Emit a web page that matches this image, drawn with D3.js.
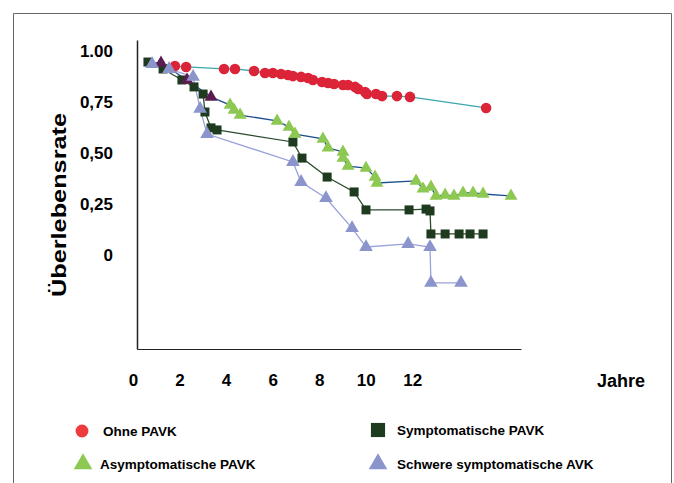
<!DOCTYPE html>
<html>
<head>
<meta charset="utf-8">
<script src="https://cdn.jsdelivr.net/npm/d3@7"></script>
<style>
body { margin: 0; background: #fff; }
svg text { font-family: "Liberation Sans", Arial, sans-serif; font-weight: bold; fill: #000; }
</style>
</head>
<body>
<svg></svg>
<script>

// tick labels
var yTicks = [1, 0.75, 0.5, 0.25, 0];
var yTickLabels = ["1.00", "0,75", "0,50", "0,25", "0"];
var xTicks = [0, 2, 4, 6, 8, 10, 12];

// Ohne PAVK
var ohneYears = [1.63, 2.11, 3.74, 4.21, 5.03, 5.50, 5.84, 6.19, 6.49, 6.70, 7.05, 7.35, 7.56, 7.95, 8.21, 8.47, 8.85, 9.07, 9.37, 9.50, 9.80, 9.88, 10.27, 10.53, 11.17, 11.73, 15.00];
var ohneRate  = [0.926, 0.922, 0.912, 0.912, 0.902, 0.892, 0.892, 0.887, 0.882, 0.877, 0.873, 0.868, 0.858, 0.848, 0.843, 0.838, 0.833, 0.833, 0.824, 0.814, 0.799, 0.789, 0.789, 0.779, 0.779, 0.775, 0.721];

// Symptomatische PAVK
var sympYears = [0.47, 1.12, 1.93, 2.45, 2.84, 2.92, 3.18, 3.44, 6.70, 7.09, 8.17, 9.33, 9.84, 11.69, 12.42, 12.59, 12.63, 13.24, 13.84, 14.31, 14.87];
var sympRate  = [0.946, 0.912, 0.858, 0.824, 0.789, 0.701, 0.623, 0.613, 0.554, 0.475, 0.382, 0.309, 0.221, 0.221, 0.225, 0.216, 0.103, 0.103, 0.103, 0.103, 0.103];

// Asymptomatische PAVK (first three markers drawn dark)
var asymYears = [1.03, 2.15, 3.18, 4.00, 4.17, 4.43, 6.02, 6.53, 6.79, 7.99, 8.21, 8.85, 8.85, 9.07, 9.84, 10.23, 10.31, 11.99, 12.29, 12.63, 12.85, 13.24, 13.62, 14.01, 14.44, 14.87, 16.07];
var asymRate  = [0.941, 0.858, 0.775, 0.735, 0.711, 0.686, 0.657, 0.627, 0.593, 0.569, 0.525, 0.505, 0.475, 0.436, 0.426, 0.382, 0.353, 0.363, 0.324, 0.333, 0.289, 0.294, 0.289, 0.304, 0.304, 0.299, 0.289];
var asymDark = 3;

// Schwere symptomatische AVK
var schwYears = [0.65, 1.38, 2.41, 2.71, 3.01, 6.70, 7.05, 8.12, 9.24, 9.84, 11.65, 12.59, 12.63, 13.92];
var schwRate  = [0.936, 0.912, 0.873, 0.716, 0.593, 0.456, 0.358, 0.279, 0.132, 0.039, 0.054, 0.039, -0.137, -0.137];

var startYear = 0.47, startRate = 0.946;

var zip = function(a, b) { return a.map(function(d, i) { return [d, b[i]]; }); };

var width = 674, height = 483;

const x = d3.scaleLinear().domain([0, 16.5]).range([137, 521]);
const y = d3.scaleLinear().domain([-0.461, 1.054]).range([349, 40]);

const svg = d3.select('svg')
	.attr('width', width)
	.attr('height', height);

// frame
svg.append('path')
	.attr('d', 'M13.5,490V13.5H671.5V490')
	.attr('fill', 'none')
	.attr('stroke', '#666')
	.attr('stroke-width', 1);

// axes
var yAxis = d3.axisLeft(y).tickValues(yTicks)
	.tickFormat(function(d, i) { return yTickLabels[i]; })
	.tickSize(0).tickPadding(24);
var xAxis = d3.axisBottom(x).tickValues(xTicks).tickSize(0).tickPadding(25);

const gy = svg.append('g').attr('transform', 'translate(137,0)').call(yAxis);
gy.select('.domain').attr('stroke', '#222').attr('stroke-width', 1.5);
gy.selectAll('text').attr('font-size', 17).style('font-family', '"Liberation Sans", Arial, sans-serif');

const gx = svg.append('g').attr('transform', 'translate(0,349)').call(xAxis);
gx.select('.domain').attr('stroke', '#222').attr('stroke-width', 1);
gx.selectAll('text').attr('font-size', 17).attr('dx', -4).style('font-family', '"Liberation Sans", Arial, sans-serif');

svg.append('text')
	.attr('x', 597).attr('y', 387)
	.attr('font-size', 18)
	.text('Jahre');

svg.append('text')
	.attr('transform', 'translate(66,205) rotate(-90)')
	.attr('text-anchor', 'middle')
	.attr('font-size', 21)
	.attr('textLength', 184)
	.attr('lengthAdjust', 'spacingAndGlyphs')
	.text('Überlebensrate');

// lines
var line = d3.line()
	.x(function(d) { return x(d[0]); })
	.y(function(d) { return y(d[1]); });

var series = [
	{ pts: [[startYear, startRate]].concat(zip(ohneYears, ohneRate)), color: '#3aa7aa', w: 1.3 },
	{ pts: zip(sympYears, sympRate), color: '#2c4a2c', w: 1.3 },
	{ pts: [[startYear, startRate]].concat(zip(asymYears, asymRate)), color: '#1f4f8e', w: 1.3 },
	{ pts: zip(schwYears, schwRate), color: '#9aa2da', w: 1.3 }
];

svg.selectAll('.line')
	.data(series)
	.enter().append('path')
	.attr('class', 'line')
	.attr('d', function(d) { return line(d.pts); })
	.attr('fill', 'none')
	.attr('stroke', function(d) { return d.color; })
	.attr('stroke-width', function(d) { return d.w; });

// markers
var sym = function(type, size) { return d3.symbol().type(type).size(size)(); };

function markers(pts, path, color) {
	svg.append('g').selectAll('path')
		.data(pts)
		.enter().append('path')
		.attr('d', path)
		.attr('transform', function(d) { return 'translate(' + x(d[0]) + ',' + y(d[1]) + ')'; })
		.attr('fill', function(d, i) { return typeof color === 'function' ? color(i) : color; });
}

markers(zip(ohneYears, ohneRate), sym(d3.symbolCircle, 88), '#dc2439');
markers(zip(sympYears, sympRate), sym(d3.symbolSquare, 81), '#1e3a1f');
markers(zip(asymYears, asymRate), sym(d3.symbolTriangle, 72), function(i) { return i < asymDark ? '#5b1c4f' : '#8dc852'; });
markers(zip(schwYears, schwRate), sym(d3.symbolTriangle, 80), '#8b95cc');

// legend
var legend = [
	{ label: 'Ohne PAVK', path: sym(d3.symbolCircle, 130), color: '#ee3b3e', mx: 82, my: 431, tx: 103 },
	{ label: 'Symptomatische PAVK', path: sym(d3.symbolSquare, 200), color: '#1e3a1f', mx: 378, my: 430, tx: 397 },
	{ label: 'Asymptomatische PAVK', path: sym(d3.symbolTriangle, 150), color: '#8dc852', mx: 83, my: 464, tx: 100 },
	{ label: 'Schwere symptomatische AVK', path: sym(d3.symbolTriangle, 150), color: '#8b95cc', mx: 378, my: 464, tx: 397 }
];

var lg = svg.selectAll('.legend')
	.data(legend)
	.enter().append('g')
	.attr('class', 'legend');

lg.append('path')
	.attr('d', function(d) { return d.path; })
	.attr('transform', function(d) { return 'translate(' + d.mx + ',' + d.my + ')'; })
	.attr('fill', function(d) { return d.color; });

lg.append('text')
	.attr('x', function(d) { return d.tx; })
	.attr('y', function(d) { return d.my + 5; })
	.attr('font-size', 13.5)
	.text(function(d) { return d.label; });

</script>
</body>
</html>
